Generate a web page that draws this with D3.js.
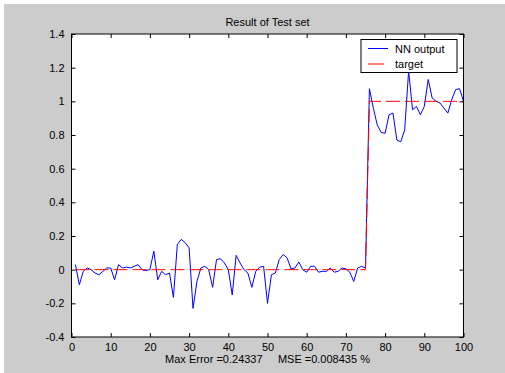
<!DOCTYPE html>
<meta charset="utf-8">
<style>
body { margin: 0; background: #fff; }
text { font-family: "Liberation Sans", Arial, sans-serif; font-size: 11px; fill: #000; }
.axis path, .axis line { stroke: #000; }
.nn { fill: none; stroke: #0000ff; stroke-width: 1; }
.target { fill: none; stroke: #ff0000; stroke-width: 1; stroke-dasharray: 14,5; }
</style>
<svg width="505" height="373"></svg>
<script src="https://cdnjs.cloudflare.com/ajax/libs/d3/7.8.5/d3.min.js"></script>
<script>

var title = "Result of Test set",
    xLabel = "Max Error =0.24337     MSE =0.008435 %",
    seriesNames = ["NN output", "target"];

var xTicks = [0, 10, 20, 30, 40, 50, 60, 70, 80, 90, 100],
    yTicks = [-0.4, -0.2, 0, 0.2, 0.4, 0.6, 0.8, 1, 1.2, 1.4];

// network output, samples 1..100
var nnOutput = [
  0.03, -0.09, -0.01, 0.01, 0.0, -0.02, -0.03, -0.01, 0.01, 0.01,
  -0.06, 0.03, 0.01, 0.015, 0.01, 0.02, 0.03, 0.0, -0.005, 0.0,
  0.11, -0.06, -0.01, -0.03, -0.02, -0.165, 0.15, 0.18, 0.16, 0.13,
  -0.23, -0.07, 0.01, 0.02, 0.0, -0.105, 0.06, 0.065, 0.04, 0.0,
  -0.15, 0.085, 0.04, 0.0, -0.02, -0.105, -0.01, 0.015, 0.02, -0.2,
  -0.03, -0.02, 0.06, 0.09, 0.07, 0.005, 0.01, 0.045, 0.0, -0.015,
  0.02, 0.02, -0.015, -0.01, -0.01, 0.01, -0.015, -0.01, 0.01, 0.005,
  -0.015, -0.07, 0.01, 0.02, 0.01, 1.075, 0.96, 0.86, 0.815, 0.81,
  0.92, 0.93, 0.77, 0.76, 0.83, 1.18, 0.95, 0.97, 0.92, 0.97,
  1.13, 1.02, 1.0, 0.99, 0.96, 0.93, 1.01, 1.07, 1.075, 1.0
];

// target values, samples 1..100
var targetValues = [];
for (var i = 1; i <= 100; i++) targetValues.push(i <= 75 ? 0 : 1);

var svg = d3.select("svg");

svg.append("rect")
    .attr("x", 4).attr("y", 4)
    .attr("width", 501).attr("height", 369)
    .attr("fill", "#cccccc");

var plotLeft = 71.5, plotRight = 463.5, plotTop = 34, plotBottom = 337;

var x = d3.scaleLinear().domain([0, 100]).range([plotLeft, plotRight]),
    y = d3.scaleLinear().domain([-0.4, 1.4]).range([plotBottom, plotTop]);

svg.append("rect")
    .attr("x", plotLeft).attr("y", plotTop)
    .attr("width", plotRight - plotLeft).attr("height", plotBottom - plotTop)
    .attr("fill", "#fff");

var line = d3.line()
    .x(function(d, i) { return x(i + 1); })
    .y(function(d) { return y(d); });

svg.append("path")
    .datum(nnOutput)
    .attr("class", "nn")
    .attr("d", line);

svg.append("path")
    .datum(targetValues)
    .attr("class", "target")
    .attr("d", line);

var fmt = function(d) { return String(+d.toFixed(1)); };

function clean(g) {
  g.select(".domain").remove();
  g.selectAll("text").attr("font-size", null).attr("font-family", null).attr("fill", null);
}

svg.append("g")
    .attr("class", "axis")
    .attr("transform", "translate(0," + plotBottom + ")")
    .call(d3.axisBottom(x).tickValues(xTicks).tickSizeInner(-4).tickSizeOuter(0).tickPadding(6))
    .call(clean);

svg.append("g")
    .attr("class", "axis")
    .attr("transform", "translate(0," + plotTop + ")")
    .call(d3.axisTop(x).tickValues(xTicks).tickSizeInner(-4).tickSizeOuter(0).tickFormat(""))
    .call(clean);

svg.append("g")
    .attr("class", "axis")
    .attr("transform", "translate(" + plotLeft + ",0)")
    .call(d3.axisLeft(y).tickValues(yTicks).tickFormat(fmt).tickSizeInner(-4).tickSizeOuter(0).tickPadding(7))
    .call(clean);

svg.append("g")
    .attr("class", "axis")
    .attr("transform", "translate(" + plotRight + ",0)")
    .call(d3.axisRight(y).tickValues(yTicks).tickSizeInner(-4).tickSizeOuter(0).tickFormat(""))
    .call(clean);

svg.append("rect")
    .attr("x", plotLeft).attr("y", plotTop)
    .attr("width", plotRight - plotLeft).attr("height", plotBottom - plotTop)
    .attr("fill", "none")
    .attr("stroke", "#000");

svg.append("text")
    .attr("x", (plotLeft + plotRight) / 2).attr("y", 26)
    .attr("text-anchor", "middle")
    .text(title);

svg.append("text")
    .attr("x", (plotLeft + plotRight) / 2).attr("y", 363)
    .attr("text-anchor", "middle")
    .attr("xml:space", "preserve")
    .style("white-space", "pre")
    .text(xLabel);

// legend
var legend = svg.append("g").attr("transform", "translate(361,39.5)");

legend.append("rect")
    .attr("width", 96).attr("height", 33)
    .attr("fill", "#fff")
    .attr("stroke", "#000");

legend.selectAll(".item")
    .data(seriesNames)
  .enter().append("g")
    .attr("transform", function(d, i) { return "translate(0," + (9 + i * 15.5) + ")"; })
    .each(function(d, i) {
      var g = d3.select(this);
      g.append("line")
          .attr("x1", 7).attr("x2", i ? 23 : 27)
          .attr("stroke", i ? "#ff0000" : "#0000ff")
          .attr("stroke-dasharray", i ? "16,6" : null);
      g.append("text")
          .attr("x", 34).attr("y", 4)
          .text(d);
    });

</script>
